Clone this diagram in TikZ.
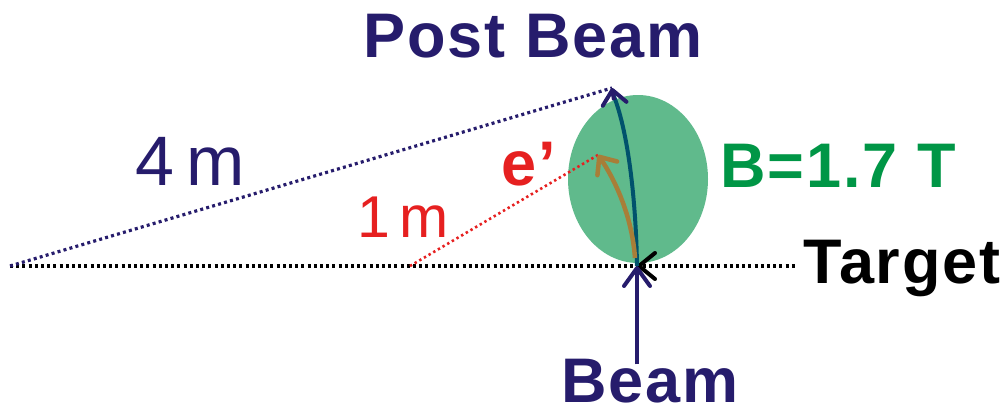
\documentclass[tikz,border=0pt]{standalone}
\usepackage{fontspec}
\setmainfont{Liberation Sans}
\newfontfamily\lblfont{Liberation Sans}[LetterSpace=3]
\usetikzlibrary{arrows.meta,shapes.geometric}
\definecolor{navy}{RGB}{38,28,108}
\definecolor{redc}{RGB}{230,32,32}
\definecolor{greent}{RGB}{0,150,70}
\definecolor{ellfill}{RGB}{96,186,140}
\definecolor{tealc}{RGB}{0,82,108}
\definecolor{brownc}{RGB}{168,126,56}
\tikzset{
  lbl/.style={inner sep=0pt, anchor=base, font=\lblfont\bfseries\fontsize{63}{63}\selectfont},
  lblr/.style={inner sep=0pt, anchor=base},
  dotline/.style={line width=3.2pt, dash pattern=on 3pt off 3.2pt},
  barb/.style={-{Straight Barb[length=18pt,width=26pt,round]}},
  smallbarb/.style={-{Straight Barb[length=14pt,width=24pt,round]}},
}
\begin{document}
\begin{tikzpicture}[x=1pt,y=-1pt]
\useasboundingbox (0,0) rectangle (1007,407);
% field region
\node[draw=none, fill=ellfill, ellipse, minimum width=140pt, minimum height=168pt, inner sep=0pt] (field) at (638,179) {};
% coordinates
\coordinate (T) at (637,266);
\coordinate (L) at (10,266);
\coordinate (P) at (612,88);
\coordinate (R) at (410,266);
\coordinate (E) at (598,155);
% labels
\node[lbl, text=navy] (post) at (533,57) {Post Beam};
\node[lbl, text=navy] (beam) at (650,402) {Beam};
\node[lbl, text=black] (target) at (902,283) {Target};
\node[lbl, text=greent] (bfield) at (838,187) {B=1.7 T};
\node[lbl, text=redc] (eprime) at (529,185) {e’};
\node[lblr, text=navy, font=\fontsize{70}{70}\selectfont] (four) at (190,185) {4\,m};
\node[lblr, text=redc, font=\fontsize{59}{59}\selectfont] (one) at (403,237) {1\,m};
% dotted lines
\draw[dotline, black] (L) -- (T);
\draw[black, line width=4pt, {Straight Barb[length=16pt,width=26pt,round]}-] (T) -- ++(1,0);
\draw[dotline, black] ([xshift=6pt]T) -- ([xshift=-6pt]target.west |- T);
\draw[dotline, navy] (L) -- (P);
\draw[dotline, redc, line width=2.6pt, dash pattern=on 2.4pt off 3pt] (R) -- (E);
% trajectories
\draw[navy, line width=4pt, barb] ([yshift=-6pt]T |- beam.north) -- (T);
\draw[tealc, line width=4pt] (T) .. controls (636,200) and (628,130) .. (613,94);
\draw[navy, line width=4pt, smallbarb] (614,100) -- (P);
\draw[brownc, line width=4.5pt, smallbarb] (635,258) .. controls (632,215) and (614,178) .. (E);
\end{tikzpicture}
\end{document}
